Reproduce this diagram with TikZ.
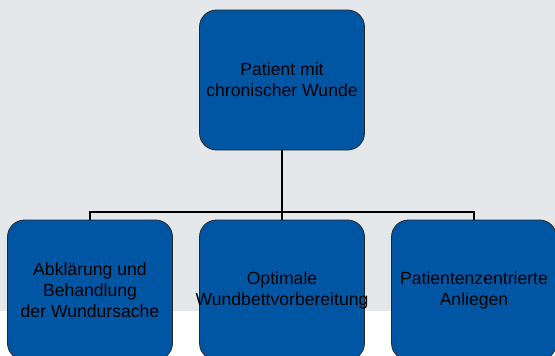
\documentclass[tikz,border=0pt]{standalone}
\usepackage{fontspec}
\setmainfont{Liberation Sans}
\definecolor{boxblue}{HTML}{0056A2}
\definecolor{bggray}{HTML}{E4E8EB}
\begin{document}
\begin{tikzpicture}[x=1pt,y=-1pt,
    boxtext/.style={align=center,inner sep=0pt,
      font=\fontsize{17.6pt}{21pt}\selectfont},
    box/.style={draw=black!85,line width=0.8pt,fill=boxblue,rounded corners=17pt,
      minimum width=165pt,minimum height=140pt,inner sep=0pt,
      label={[boxtext]center:#1}},
    link/.style={draw=black,line width=1.8pt}]
      \clip (0,0) rectangle (555,356);
      \fill[bggray] (0,0) rectangle (555,310.5);
      \draw
        (282,80) node[box={Patient mit\\chronischer Wunde}] (top){}
        (90,290) node[box={Abklärung und\\Behandlung\\der Wundursache}] (cause){}
        (282,290) node[box={Optimale\\Wundbettvorbereitung}] (bed){}
        (474,290) node[box={Patientenzentrierte\\Anliegen}] (care){};
      \coordinate (bus) at (282,212);
      \begin{scope}[link]
        \draw (top.south) to (bus);
        \draw (bus) to (bed.north);
        \draw (cause.north) |- (bus) -| (care.north);
      \end{scope}
    \end{tikzpicture}
\end{document}
